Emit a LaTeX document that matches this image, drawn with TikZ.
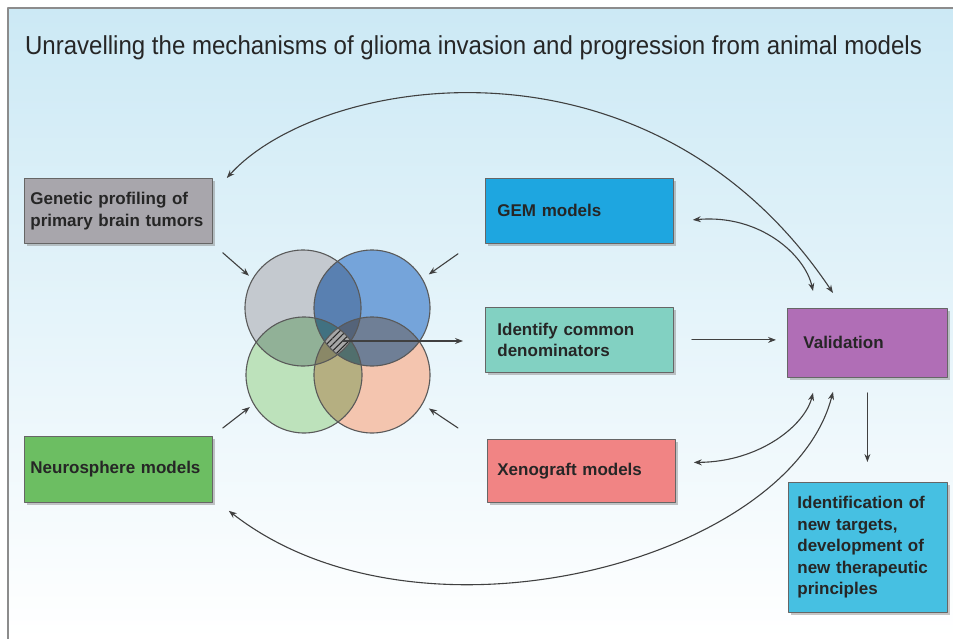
\documentclass[tikz,border=0pt]{standalone}
\usepackage{fontspec}
\setmainfont{Liberation Sans}
\newfontfamily\titlefont{Liberation Sans}[FakeStretch=0.925]
\usetikzlibrary{arrows.meta,calc,shadows,patterns.meta}

\definecolor{bgtop}{RGB}{204,233,245}
\definecolor{bgmid}{RGB}{224,241,249}
\definecolor{cgen}{RGB}{168,166,172}
\definecolor{cgem}{RGB}{30,166,224}
\definecolor{cide}{RGB}{130,209,194}
\definecolor{cxen}{RGB}{241,132,132}
\definecolor{cneu}{RGB}{108,190,98}
\definecolor{cval}{RGB}{176,110,182}
\definecolor{ctgt}{RGB}{70,192,226}
\definecolor{vgry}{RGB}{188,194,201}
\definecolor{vblu}{RGB}{98,152,214}
\definecolor{vgrn}{RGB}{180,222,178}
\definecolor{vsal}{RGB}{243,190,165}

\tikzset{
  box/.style={rectangle, draw=black!60, line width=0.8pt, anchor=north west,
    align=left, inner ysep=0pt, text=black!85,
    font=\fontsize{17}{21.5}\selectfont\bfseries,
    drop shadow={shadow xshift=3pt, shadow yshift=-3pt, opacity=0.45}},
  venn/.style={circle, minimum size=116pt, inner sep=0pt, outer sep=0pt},
  vline/.style={draw=black!65, line width=1.1pt},
  arr/.style={-{Stealth[length=8pt,width=6pt]}, draw=black!75, line width=1.1pt},
  arr2/.style={{Stealth[length=8pt,width=6pt]}-{Stealth[length=8pt,width=6pt]},
    draw=black!75, line width=1.1pt},
  ttl/.style={inner sep=0pt, text=black!85, font=\titlefont\fontsize{26}{30}\selectfont}
}

\begin{document}
\begin{tikzpicture}[x=1pt, y=-1pt, line cap=round, line join=round]

  %% ════ 背景与边框 ════
  \shade[top color=bgtop, middle color=bgmid, bottom color=white] (8,8) rectangle (953,639);
  \draw[black!45, line width=1.2pt] (953,8) -- (8,8) -- (8,639);

  %% ════ 标题 ════
  \node[ttl] (ttl) at (473.5,48) {Unravelling the mechanisms of glioma invasion and progression from animal models};

  %% ════ 方框 ════
  \node[box, fill=cgen, minimum height=65pt, text width=176pt, inner xsep=6pt] (gen) at (24,178) {Genetic profiling of\\primary brain tumors};
  \node[box, fill=cneu, minimum height=66pt, text width=176pt, inner xsep=6pt] (neu) at (24,436) {Neurosphere models};
  \node[box, fill=cgem, minimum height=65pt, text width=164pt, inner xsep=12pt] (gem) at (485,178) {GEM models};
  \node[box, fill=cide, minimum height=65pt, text width=164pt, inner xsep=12pt] (ide) at (485,307) {Identify common\\denominators};
  \node[box, fill=cxen, minimum height=63pt, text width=168pt, inner xsep=10pt] (xen) at (487,439) {Xenograft models};
  \node[box, fill=cval, minimum height=69pt, text width=128pt, inner xsep=16pt] (val) at (787,308) {Validation};
  \node[box, fill=ctgt, minimum height=130pt, text width=141pt, inner xsep=9pt] (tgt) at (788,482) {Identification of\\new targets,\\development of\\new therapeutic\\principles};

  %% ════ 四圆（相乘叠色）════
  \node[venn] (cgry) at (303,308) {};
  \node[venn] (cblu) at (372,308) {};
  \node[venn] (cgrn) at (304,375) {};
  \node[venn] (csal) at (372,375) {};
  \coordinate (core) at (338,341);

  \foreach \c in {cgry,cblu,cgrn,csal}
    \fill[white] (\c) circle[radius=58];
  \begin{scope}[blend mode=multiply, fill opacity=0.88]
    \fill[vgry] (cgry) circle[radius=58];
    \fill[vblu] (cblu) circle[radius=58];
    \fill[vgrn] (cgrn) circle[radius=58];
    \fill[vsal] (csal) circle[radius=58];
  \end{scope}
  \begin{scope}
    \clip (cgry) circle[radius=58];
    \clip (cblu) circle[radius=58];
    \clip (cgrn) circle[radius=58];
    \clip (csal) circle[radius=58];
    \fill[black!35] (310,310) rectangle (370,370);
    \fill[pattern={Lines[angle=45,distance=4.5pt,line width=1pt]}, pattern color=black!85] (310,310) rectangle (370,370);
  \end{scope}
  \foreach \c in {cgry,cblu,cgrn,csal}
    \draw[vline] (\c) circle[radius=58];

  %% ════ 箭头端点 ════
  \coordinate (gentip) at ($(gen.north east)+(14,0)$);
  \coordinate (neutip) at ($(neu.south east)+(16,8)$);
  \coordinate (gemtip) at ($(gem.east)+(19,9)$);
  \coordinate (xentip) at ($(xen.east)+(18,-8.5)$);
  \coordinate (vt1) at ($(val.north west)+(26,-17)$);
  \coordinate (vt2) at ($(val.north west)+(46,-15)$);
  \coordinate (vb1) at ($(val.south west)+(26,15)$);
  \coordinate (vb2) at ($(val.south west)+(46,14)$);

  %% ════ 直箭头 ════
  \draw[arr, shorten >=5pt] ($(gen.south east)+(10,9)$) -- (cgry.150);
  \draw[arr, shorten >=8pt] ($(gem.south west)+(-27,10)$) -- (cblu.30);
  \draw[arr, shorten >=5pt] ($(neu.north east)+(10,-8)$) -- (cgrn.210);
  \draw[arr, shorten >=8pt] ($(xen.north west)+(-29,-11)$) -- (csal.330);
  \draw[arr, shorten <=5pt, shorten >=22pt] (core) -- (core -| ide.west);
  \draw[arr, shorten <=18pt, shorten >=11pt] (ide.east) -- (ide.east -| val.west);
  \draw[arr, shorten <=15pt, shorten >=20pt] (val.south) -- (val.south |- tgt.north);

  %% ════ 曲线（双向）════
  \draw[arr2] (gentip) .. controls (320,75) and (650,20) .. (vt2);
  \draw[arr2] (gemtip) .. controls (760,214) and (805,255) .. (vt1);
  \draw[arr2] (xentip) .. controls (760,462) and (805,425) .. (vb1);
  \draw[arr2] (vb2) .. controls (790,560) and (420,660) .. (neutip);

  % 钉死画布
  \pgfresetboundingbox
  \path[use as bounding box] (0,0) rectangle (953,639);
\end{tikzpicture}
\end{document}
